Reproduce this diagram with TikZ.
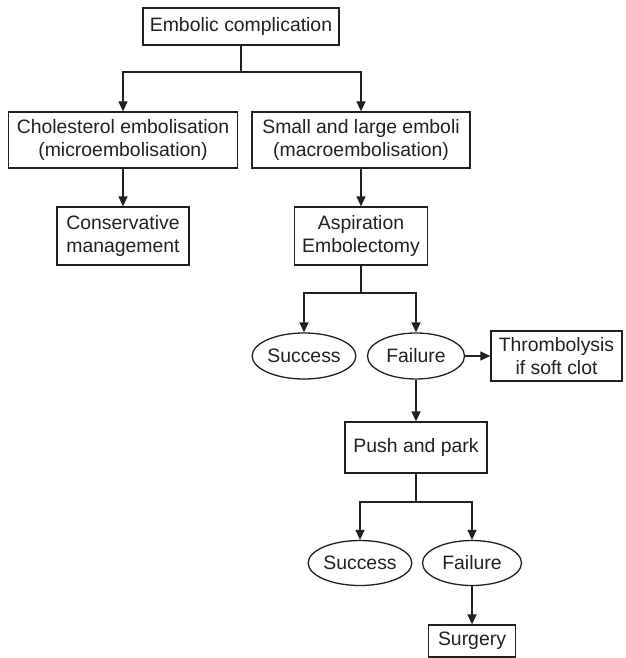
\documentclass[tikz,border=0pt]{standalone}
\usepackage{fontspec}
\setmainfont{Liberation Sans}
\usetikzlibrary{arrows.meta,shapes.geometric}
\definecolor{ink}{RGB}{35,31,32}
\begin{document}
\begin{tikzpicture}[x=1pt,y=-1pt,
  every node/.style={font=\fontsize{19.4}{23}\selectfont, align=center,
    inner sep=0pt, text=ink},
  box/.style={draw=ink, rectangle, line width=1.3pt},
  oval/.style={draw=ink, ellipse, line width=1.3pt},
  link/.style={draw=ink, line width=1.3pt},
  arr/.style={link, -{Triangle[length=10pt,width=9pt]}}]
\useasboundingbox (0,0) rectangle (625,658);

% boxes and ovals
\node[box, minimum width=196, minimum height=37] (top) at (241,26.5) {Embolic complication};
\node[box, minimum width=229, minimum height=56] (chol) at (123,140) {Cholesterol embolisation\\(microembolisation)};
\node[box, minimum width=218, minimum height=56] (macro) at (361,140) {Small and large emboli\\(macroembolisation)};
\node[box, minimum width=132, minimum height=58] (cons) at (123,236) {Conservative\\management};
\node[box, minimum width=133, minimum height=58] (asp) at (361,236) {Aspiration\\Embolectomy};
\node[oval, minimum width=98, minimum height=46] (s1) at (304,356) {Success};
\node[oval, minimum width=97, minimum height=46] (f1) at (416,356) {Failure};
\node[box, minimum width=131, minimum height=50] (thromb) at (556.5,356) {Thrombolysis\\if soft clot};
\node[box, minimum width=142, minimum height=51] (push) at (416,447.5) {Push and park};
\node[oval, minimum width=97, minimum height=45] (s2) at (360,563) {Success};
\node[oval, minimum width=99, minimum height=45] (f2) at (472,563) {Failure};
\node[box, minimum width=87, minimum height=32] (surg) at (472,641) {Surgery};

% branch points
\coordinate (j1) at (241,72);
\coordinate (j2) at (361,293);
\coordinate (j3) at (416,502);

% connectors
\draw[link] (top.south) -- (j1);
\draw[arr] (j1) -| (chol.north);
\draw[arr] (j1) -| (macro.north);
\draw[arr] (chol.south) -- (cons.north);
\draw[arr] (macro.south) -- (asp.north);
\draw[link] (asp.south) -- (j2);
\draw[arr] (j2) -| (s1.north);
\draw[arr] (j2) -| (f1.north);
\draw[arr] (f1.east) -- (thromb.west);
\draw[arr] (f1.south) -- (push.north);
\draw[link] (push.south) -- (j3);
\draw[arr] (j3) -| (s2.north);
\draw[arr] (j3) -| (f2.north);
\draw[arr] (f2.south) -- (surg.north);
\end{tikzpicture}
\end{document}
